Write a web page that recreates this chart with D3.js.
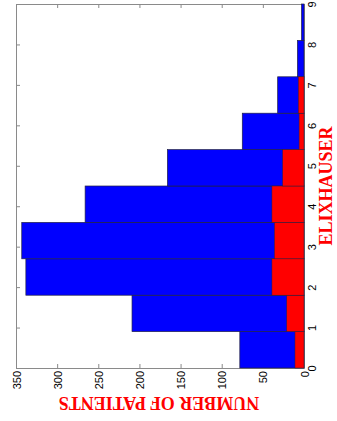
<!DOCTYPE html>
<html>
<head>
<meta charset="utf-8">
<script src="https://cdn.jsdelivr.net/npm/d3@7"></script>
<style>
  html, body { margin: 0; padding: 0; background: #fff; }
  svg { display: block; }
</style>
</head>
<body>
<svg id="chart" width="337" height="421"></svg>
<script>
// ---- data ----
const binCenters = [0.45, 1.35, 2.25, 3.15, 4.05, 4.95, 5.85, 6.75, 7.65, 8.55];
const binWidth = 0.9;
const totalPatients = [78, 209, 338, 343, 266, 166, 75, 32, 8, 3];
const subsetPatients = [11, 21, 39, 36, 39, 26, 6, 7, 0, 0];
const categoryTicks = [0, 1, 2, 3, 4, 5, 6, 7, 8, 9];
const countTicks = [0, 50, 100, 150, 200, 250, 300, 350];
const countLabel = "NUMBER OF PATIENTS";
const categoryLabel = "ELIXHAUSER";

// ---- layout ----
const plotLeft = 16, plotRight = 304, plotTop = 4, plotBottom = 368;
const svg = d3.select("#chart");
const axisColor = "#8a8a8a";

const xScale = d3.scaleLinear().domain([0, 350]).range([plotRight, plotLeft]);
const yScale = d3.scaleLinear().domain([0, 9]).range([plotBottom, plotTop]);

const tickFont = "'Liberation Sans', Arial, Helvetica, sans-serif";

function styleAxis(g) {
  g.select(".domain").attr("stroke", axisColor).attr("stroke-width", 1);
  g.selectAll(".tick line").attr("stroke", axisColor);
  g.selectAll(".tick text").attr("fill", "#000").attr("font-family", tickFont).attr("font-size", 11);
}

// bottom axis (counts), ticks inward, labels rotated
const gBottom = svg.append("g").attr("transform", `translate(0,${plotBottom})`)
  .call(d3.axisBottom(xScale).tickValues(countTicks).tickSize(-4).tickSizeOuter(0).tickFormat(d3.format("d")));
styleAxis(gBottom);
gBottom.selectAll(".tick text")
  .attr("x", 0).attr("y", 0).attr("dy", 0)
  .attr("text-anchor", "end")
  .attr("transform", "translate(4,3) rotate(-90)");

// top axis (ticks only)
const gTop = svg.append("g").attr("transform", `translate(0,${plotTop})`)
  .call(d3.axisTop(xScale).tickValues(countTicks).tickSize(-4).tickSizeOuter(0).tickFormat(""));
styleAxis(gTop);

// left axis (ticks only)
const gLeft = svg.append("g").attr("transform", `translate(${plotLeft},0)`)
  .call(d3.axisLeft(yScale).tickValues(categoryTicks).tickSize(-4).tickSizeOuter(0).tickFormat(""));
styleAxis(gLeft);

// right axis (categories), labels rotated
const gRight = svg.append("g").attr("transform", `translate(${plotRight},0)`)
  .call(d3.axisRight(yScale).tickValues(categoryTicks).tickSize(-4).tickSizeOuter(0).tickFormat(d3.format("d")));
styleAxis(gRight);
gRight.selectAll(".tick text")
  .attr("x", 0).attr("y", 0).attr("dy", 0)
  .attr("text-anchor", "middle")
  .attr("transform", "translate(12,0) rotate(-90)");

// bars
const edge = "#222244";
svg.append("g").selectAll("rect")
  .data(binCenters.map((c, i) => ({c, v: totalPatients[i]})))
  .join("rect")
  .attr("x", d => xScale(d.v))
  .attr("width", d => xScale(0) - xScale(d.v))
  .attr("y", d => yScale(d.c + binWidth / 2))
  .attr("height", d => yScale(d.c - binWidth / 2) - yScale(d.c + binWidth / 2))
  .attr("fill", "#0000ff")
  .attr("stroke", edge)
  .attr("stroke-width", 0.7);

svg.append("g").selectAll("rect")
  .data(binCenters.map((c, i) => ({c, v: subsetPatients[i]})).filter(d => d.v > 0))
  .join("rect")
  .attr("x", d => xScale(d.v))
  .attr("width", d => xScale(0) - xScale(d.v))
  .attr("y", d => yScale(d.c + binWidth / 2))
  .attr("height", d => yScale(d.c - binWidth / 2) - yScale(d.c + binWidth / 2))
  .attr("fill", "#ff0000")
  .attr("stroke", edge)
  .attr("stroke-width", 0.5);

// axis titles
const titleFont = "'Liberation Serif', 'Times New Roman', serif";
svg.append("text")
  .attr("transform", `translate(${(plotLeft + plotRight) / 2 - 1},397) rotate(180)`)
  .attr("text-anchor", "middle")
  .attr("font-family", titleFont).attr("font-weight", "bold").attr("font-size", 18)
  .attr("fill", "#ff0000")
  .text(countLabel);

svg.append("text")
  .attr("transform", `translate(332,${(plotTop + plotBottom) / 2}) rotate(-90)`)
  .attr("text-anchor", "middle")
  .attr("font-family", titleFont).attr("font-weight", "bold").attr("font-size", 18)
  .attr("fill", "#ff0000")
  .text(categoryLabel);
</script>
</body>
</html>
